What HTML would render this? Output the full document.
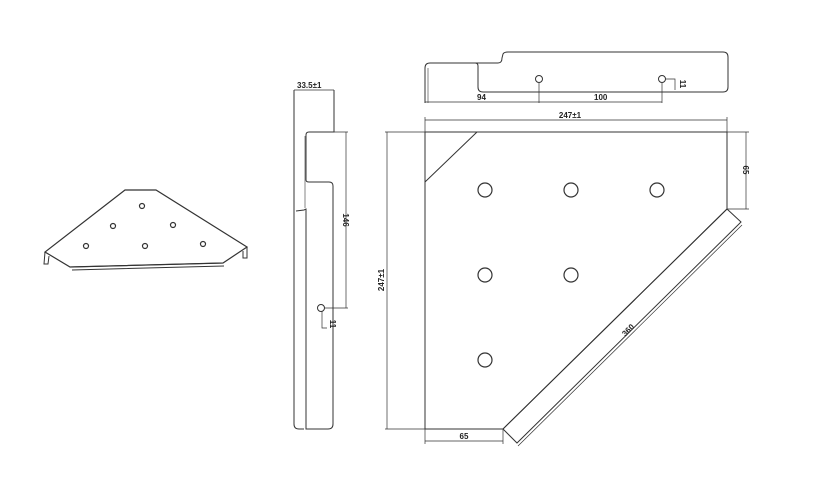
<!DOCTYPE html>
<html><head><meta charset="utf-8"><style>
html,body{margin:0;padding:0;background:#fff;}
svg{display:block;}
text{font-family:"Liberation Sans",sans-serif;font-size:8px;font-weight:bold;fill:#222;}
</style></head><body>
<svg width="827" height="499" viewBox="0 0 827 499" xmlns="http://www.w3.org/2000/svg">
<g fill="none" stroke="#333" stroke-width="1">
<!-- isometric -->
<polygon points="125,190 156,190 247,247 223,263 70,267 45,252" stroke-width="1.2"/>
<path d="M45,252 L44,264 L48,264 L49,256 M247,247 L247,258 L243,258 L243,251 M70,267 L223,263 M72,270 L224,266"/>
<g stroke-width="1.2"><circle cx="142" cy="206" r="2.5"/><circle cx="113" cy="226" r="2.5"/><circle cx="173" cy="225" r="2.5"/><circle cx="86" cy="246" r="2.5"/><circle cx="145" cy="246" r="2.5"/><circle cx="203" cy="244" r="2.5"/></g>

<!-- side view -->
<path d="M294,90 L294,424 Q294,429 299,429 L304,429"/>
<path d="M334,90 L334,132 L309,132 Q306,132 306,135 L306,180 Q306,182 309,182 L329,182 Q333,182 333,186 L333,424 Q333,429 328,429 L306,429 L306,209 L304,210 L296,211"/>
<line x1="305" y1="136" x2="305" y2="208" stroke-width="0.6"/>
<line x1="294" y1="90" x2="334" y2="90" stroke-width="0.7"/>
<path d="M334,132 L348,132 M346,132 L346,308 M324,308 L348,308 M322,311 L322,328 L327,328" stroke-width="0.7"/>
<circle cx="321" cy="308" r="3.5"/>

<!-- top view -->
<path d="M425,103 L425,68 Q425,63 430,63 L498,63 Q502,63 502,58 L503,54 Q504,52 508,52 L723,52 Q728,52 728,57 L728,87 Q728,92 723,92 L483,92 Q478,92 478,87 L478,66 Q478,63 475,63"/>
<line x1="428" y1="68" x2="428" y2="103" stroke-width="0.6"/>
<circle cx="539" cy="79" r="3.5"/><circle cx="662" cy="79" r="3.5"/>
<path d="M425,102 L662,102 M539,83 L539,103 M662,83 L662,103 M665,79 L675,79 L675,90" stroke-width="0.7"/>

<!-- main plate -->
<polygon points="425,132 727,132 727,209 503,429 425,429"/>
<line x1="477" y1="132" x2="425" y2="182"/>
<polygon points="727,209 741,222 517,443 503,429"/>
<line x1="725" y1="211" x2="505" y2="427" stroke-width="0.6"/>
<g stroke-width="1.2"><circle cx="485" cy="190" r="7"/><circle cx="571" cy="190" r="7"/><circle cx="657" cy="190" r="7"/><circle cx="485" cy="275" r="7"/><circle cx="571" cy="275" r="7"/><circle cx="485" cy="360" r="7"/></g>
<g stroke-width="0.7">
<path d="M425,132 L425,117 M727,132 L727,117 M425,120 L727,120"/>
<path d="M425,132 L385,132 M425,429 L385,429 M387,132 L387,429"/>
<path d="M727,132 L749,132 M727,209 L749,209 M746,132 L746,209"/>
<path d="M425,429 L425,444 M503,429 L503,444 M425,441 L503,441"/>
<path d="M742,225 L518,446"/>
</g>
</g>
<text x="297" y="88">33.5±1</text>
<text x="570" y="118" text-anchor="middle">247±1</text>
<text x="477" y="100">94</text>
<text x="594" y="100">100</text>
<text x="464" y="439" text-anchor="middle">65</text>
<text transform="translate(680,84) rotate(90)" text-anchor="middle">11</text>
<text transform="translate(343,220) rotate(90)" text-anchor="middle">146</text>
<text transform="translate(330,324) rotate(90)" text-anchor="middle">11</text>
<text transform="translate(384,280) rotate(-90)" text-anchor="middle">247±1</text>
<text transform="translate(743,170) rotate(90)" text-anchor="middle">65</text>
<text transform="translate(630,332) rotate(-45)" text-anchor="middle">360</text>
</svg>
</body></html>
